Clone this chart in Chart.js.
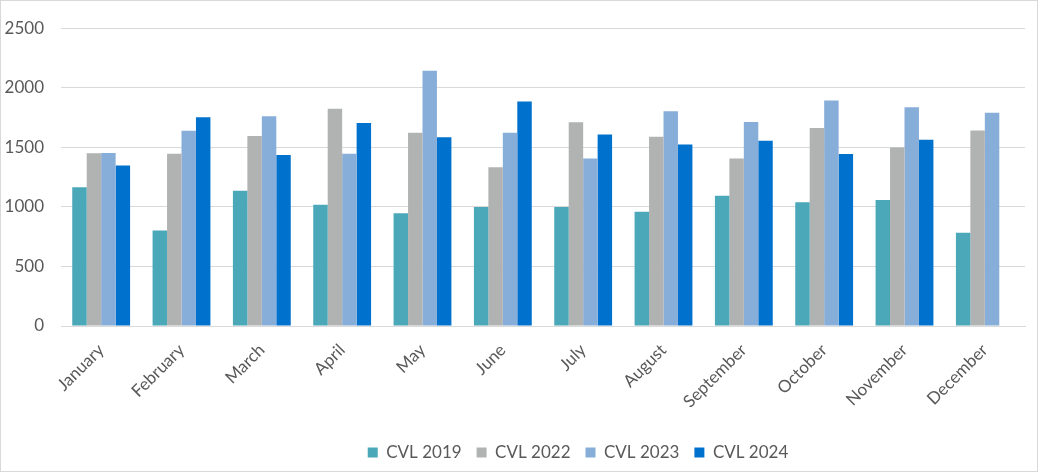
<!DOCTYPE html>
<html>
<head>
<meta charset="utf-8">
<script src="https://cdn.jsdelivr.net/npm/chart.js@4.4.1/dist/chart.umd.min.js"></script>
<style>
  html, body { margin: 0; padding: 0; background: #fff; }
  #wrap { width: 1038px; height: 472px; box-sizing: border-box; border: 1px solid #d9d9d9; }
</style>
</head>
<body>
<div id="wrap"><canvas id="cvlChart" width="1036" height="470"></canvas></div>
<script>
// Các tháng
const months = ['January', 'February', 'March', 'April', 'May', 'June', 'July', 'August', 'September', 'October', 'November', 'December'];

// Số liệu từng năm
const cvl2019 = [1165, 802, 1135, 1017, 947, 1000, 1000, 959, 1093, 1038, 1058, 782];
const cvl2022 = [1451, 1446, 1595, 1823, 1622, 1333, 1711, 1589, 1407, 1663, 1498, 1641];
const cvl2023 = [1453, 1639, 1760, 1446, 2143, 1622, 1407, 1802, 1713, 1893, 1837, 1790];
const cvl2024 = [1347, 1752, 1435, 1705, 1584, 1884, 1608, 1523, 1556, 1443, 1564, null];

const yTicks = [0, 500, 1000, 1500, 2000, 2500];

const textColor = '#595959';
const font = { family: 'Lato', size: 17 };

// Dời chú thích sang phải một chút như bản gốc
const shiftLegend = {
    id: 'shiftLegend',
    afterLayout: function (chart) {
        chart.legend.left += 126;
    }
};

const ctx = document.getElementById('cvlChart').getContext('2d');
const cvlChart = new Chart(ctx, {
    type: 'bar',
    data: {
        labels: months,
        datasets: [
            { label: 'CVL 2019', data: cvl2019, backgroundColor: '#4ba8b8' },
            { label: 'CVL 2022', data: cvl2022, backgroundColor: '#b1b2b2' },
            { label: 'CVL 2023', data: cvl2023, backgroundColor: '#87aed9' },
            { label: 'CVL 2024', data: cvl2024, backgroundColor: '#0072ce' }
        ]
    },
    plugins: [shiftLegend],
    options: {
        responsive: false,
        animation: false,
        datasets: {
            bar: { barPercentage: 1, categoryPercentage: 0.72 }
        },
        layout: { padding: { left: 4, right: 12, top: 5, bottom: 0 } },
        plugins: {
            tooltip: { enabled: false },
            legend: {
                position: 'bottom',
                labels: {
                    color: textColor,
                    font: font,
                    boxWidth: 10,
                    boxHeight: 10,
                    padding: 15
                }
            }
        },
        scales: {
            x: {
                grid: { display: false },
                border: { color: '#d9d9d9' },
                ticks: {
                    color: textColor,
                    font: font,
                    maxRotation: 45,
                    minRotation: 45,
                    autoSkip: false,
                    padding: 6
                },
                // nhãn xoay không đẩy vùng vẽ sang phải, chừa khoảng trống trên chú thích
                afterFit: function (scale) {
                    scale.paddingLeft = 0;
                    scale.height = 103;
                }
            },
            y: {
                min: 0,
                max: 2500,
                afterBuildTicks: function (axis) {
                    axis.ticks = yTicks.map(v => ({ value: v }));
                },
                afterFit: function (scale) {
                    scale.width = 56;
                },
                grid: { color: '#d9d9d9', drawTicks: false },
                border: { display: false },
                ticks: {
                    color: textColor,
                    font: font,
                    padding: 17,
                    callback: v => String(v)
                }
            }
        }
    }
});
</script>
</body>
</html>
